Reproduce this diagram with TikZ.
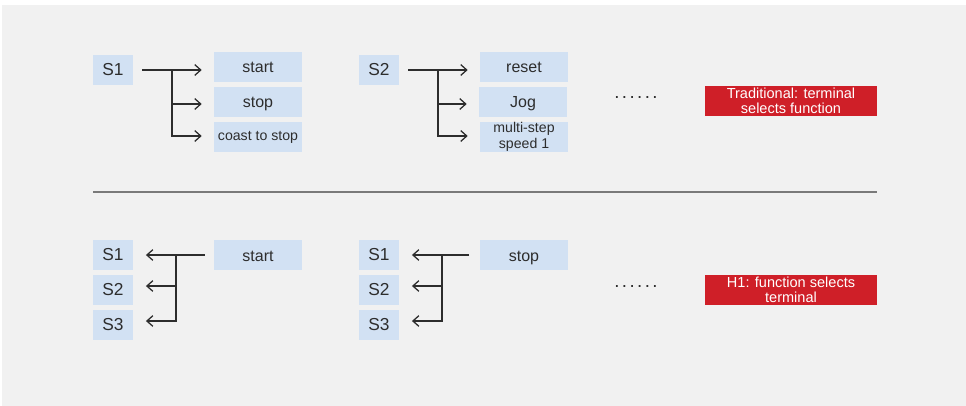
\documentclass[tikz,border=0pt]{standalone}
\usepackage{fontspec}
\setmainfont{Liberation Sans}
\usetikzlibrary{arrows.meta,calc}

\definecolor{pagegray}{RGB}{241,241,241}
\definecolor{boxblue}{RGB}{210,225,243}
\definecolor{notered}{RGB}{207,31,40}
\definecolor{labelgray}{RGB}{45,45,45}
\definecolor{arrowgray}{RGB}{45,45,45}
\definecolor{rulegray}{RGB}{122,122,122}

\begin{document}
\begin{tikzpicture}[x=0.75pt,y=0.75pt,yscale=-1,xscale=1,
  term/.style={fill=boxblue, text=labelgray, minimum width=30pt, minimum height=22.5pt, inner sep=0pt, font=\fontsize{13}{14}\selectfont},
  func/.style={fill=boxblue, text=labelgray, minimum width=66pt, minimum height=22.5pt, inner sep=0pt, text height=9pt, text depth=0pt, font=\fontsize{12}{13}\selectfont},
  smallfunc/.style={fill=boxblue, text=labelgray, minimum width=66pt, minimum height=22.5pt, inner sep=0pt, align=center, font=\fontsize{10.6}{11.8}\selectfont},
  note/.style={fill=notered, text=white, minimum width=129pt, minimum height=22.5pt, inner sep=0pt, align=center, font=\fontsize{10.9}{11.25}\selectfont},
  more/.style={text=labelgray, inner sep=0pt, font=\fontsize{14}{14}\selectfont\addfontfeature{LetterSpace=13}},
  flow/.style={draw=arrowgray, line width=0.95pt, -{Straight Barb[length=4.5pt,width=8pt,line width=0.95pt]}},
]
\path[use as bounding box] (0,0) rectangle (966,406);
%Background
\fill[pagegray] (2,5) rectangle (966,406);

%Terminal S1, top row
\node[term] (s1a) at (113,70) {S1};
\node[func] (start) at (258,67) {start};
\node[func] (stop) at (258,102) {stop};
\node[smallfunc] (coast) at (258,137) {coast to stop};
\coordinate (j1) at (172,70);
\draw[flow, shorten <=6.75pt, shorten >=9pt] (s1a) -- (start.west |- s1a);
\draw[flow, shorten >=9pt] (j1) |- ($(stop.west)+(0,2)$);
\draw[flow, shorten >=9pt] (j1) |- ($(coast.west)+(0,-1)$);

%Terminal S2, top row
\node[term] (s2a) at (379,70) {S2};
\node[func] (reset) at (524,67) {reset};
\node[func] (jog) at (523,102) {Jog};
\node[smallfunc] (multi) at (524,137) {multi-step\\speed 1};
\coordinate (j2) at (438,70);
\draw[flow, shorten <=6.75pt, shorten >=9pt] (s2a) -- (reset.west |- s2a);
\draw[flow, shorten >=9pt] (j2) |- ($(jog.west)+(0,2)$);
\draw[flow, shorten >=9pt] (j2) |- ($(multi.west)+(0,-1)$);

\node[more] (dotsa) at (636,98) {......};
\node[note] (trad) at (791,101) {Traditional: terminal\\selects function};

%Separator
\draw[rulegray, line width=0.8pt] (93,192) -- (877,192);

%Function start, bottom row
\node[term] (s1b) at (113,255) {S1};
\node[term] (s2b) at (113,290) {S2};
\node[term] (s3b) at (113,325) {S3};
\node[func] (startb) at (258,255) {start};
\coordinate (j3) at (176,255);
\draw[flow, shorten <=6.75pt, shorten >=9.5pt] (startb) -- (s1b);
\draw[flow, shorten >=9.5pt] (j3) |- ($(s2b.east)+(0,-4)$);
\draw[flow, shorten >=9.5pt] (j3) |- ($(s3b.east)+(0,-4)$);

%Function stop, bottom row
\node[term] (s1c) at (379,255) {S1};
\node[term] (s2c) at (379,290) {S2};
\node[term] (s3c) at (379,325) {S3};
\node[func] (stopb) at (524,255) {stop};
\coordinate (j4) at (442,255);
\draw[flow, shorten <=8pt, shorten >=9.5pt] (stopb) -- (s1c);
\draw[flow, shorten >=9.5pt] (j4) |- ($(s2c.east)+(0,-4)$);
\draw[flow, shorten >=9.5pt] (j4) |- ($(s3c.east)+(0,-4)$);

\node[more] (dotsb) at (636,286) {......};
\node[note] (hone) at (791,290) {H1: function selects\\terminal};

\end{tikzpicture}
\end{document}
